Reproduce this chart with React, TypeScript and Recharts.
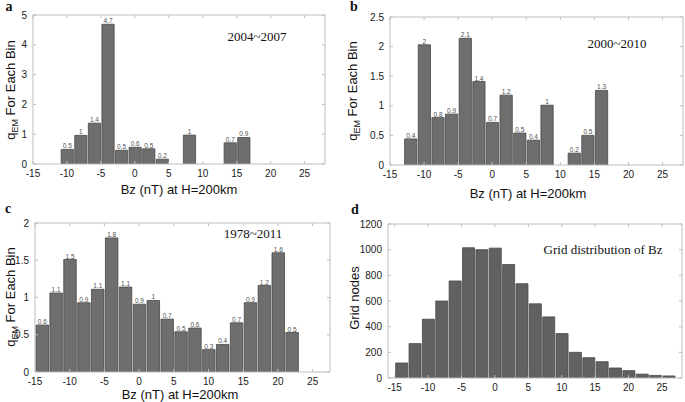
import React from 'react';
import { BarChart, Bar, XAxis, YAxis, LabelList } from 'recharts';

// bin centres (bins are 2 nT wide) and heights
const binsA = [-10, -8, -6, -4, -2, 0, 2, 4, 8, 14, 16];
const qemA = [0.49, 0.96, 1.37, 4.69, 0.46, 0.56, 0.51, 0.16, 0.97, 0.71, 0.89];

const binsB = [-12, -10, -8, -6, -4, -2, 0, 2, 4, 6, 8, 12, 14, 16];
const qemB = [0.44, 2.03, 0.8, 0.86, 2.14, 1.41, 0.72, 1.18, 0.54, 0.42, 1.01, 0.2, 0.5, 1.26];

const binsC = [-14, -12, -10, -8, -6, -4, -2, 0, 2, 4, 6, 8, 10, 12, 14, 16, 18, 20, 22];
const qemC = [0.63, 1.06, 1.51, 0.93, 1.11, 1.8, 1.14, 0.91, 0.96, 0.71, 0.54, 0.59, 0.3, 0.37, 0.66, 0.93, 1.16, 1.6, 0.53];

const binsD = [-14, -12, -10, -8, -6, -4, -2, 0, 2, 4, 6, 8, 10, 12, 14, 16, 18, 20, 22, 24, 26];
const gridNodes = [117, 268, 458, 600, 756, 1015, 1000, 1012, 884, 735, 578, 476, 346, 200, 158, 127, 78, 57, 30, 20, 16];

const xTicks = [-15, -10, -5, 0, 5, 10, 15, 20, 25];
const yTicksA = [0, 1, 2, 3, 4, 5];
const yTicksB = [0, 0.5, 1, 1.5, 2, 2.5];
const yTicksC = [0, 0.5, 1, 1.5, 2];
const yTicksD = [0, 200, 400, 600, 800, 1000, 1200];

const SANS = '"Liberation Sans", Arial, sans-serif';
const SERIF = '"Liberation Serif", "Times New Roman", serif';
const FRAME = '#bdbdbd';

const fmt = (v: any) => String(Number(Number(v).toFixed(1)));

type PanelProps = {
  x: number;
  y: number;
  w: number;
  h: number;
  margin: { top: number; right: number; bottom: number; left: number };
  bins: number[];
  values: number[];
  xDomain: [number, number];
  yTicks: number[];
  fill: string;
  showLabels: boolean;
};

function Panel({ x, y, w, h, margin, bins, values, xDomain, yTicks, fill, showLabels }: PanelProps) {
  const data = bins.map((b, i) => ({ x: b, v: values[i] }));
  // axes take 1px each side
  const plotW = w - margin.left - margin.right - 2;
  const barSize = (2 * plotW) / (xDomain[1] - xDomain[0]);
  const yDomain: [number, number] = [yTicks[0], yTicks[yTicks.length - 1]];
  const tickStyle = { fill: '#1a1a1a', fontSize: 10, fontFamily: SANS };
  return (
    <div style={{ position: 'absolute', left: x, top: y }}>
      <BarChart width={w} height={h} data={data} margin={margin} barGap={0} barCategoryGap={0}>
        <XAxis
          type="number"
          dataKey="x"
          domain={xDomain}
          ticks={xTicks}
          interval={0}
          allowDataOverflow
          height={1}
          tickSize={-3}
          tickMargin={9}
          stroke={FRAME}
          tick={tickStyle}
        />
        <XAxis
          xAxisId="top"
          orientation="top"
          type="number"
          dataKey="x"
          domain={xDomain}
          ticks={xTicks}
          interval={0}
          allowDataOverflow
          height={1}
          tickSize={-3}
          stroke={FRAME}
          tickFormatter={() => ''}
        />
        <YAxis
          type="number"
          domain={yDomain}
          ticks={yTicks}
          interval={0}
          allowDataOverflow
          width={1}
          tickSize={-3}
          tickMargin={9}
          stroke={FRAME}
          tick={tickStyle}
        />
        <YAxis
          yAxisId="right"
          orientation="right"
          type="number"
          domain={yDomain}
          ticks={yTicks}
          interval={0}
          allowDataOverflow
          width={1}
          tickSize={-3}
          stroke={FRAME}
          tickFormatter={() => ''}
        />
        <Bar dataKey="v" fill={fill} stroke="#474747" strokeWidth={0.8} barSize={barSize} isAnimationActive={false}>
          {showLabels && (
            <LabelList dataKey="v" position="top" offset={1} formatter={fmt} fill="#505050" fontSize={6.5} fontFamily={SANS} />
          )}
        </Bar>
      </BarChart>
    </div>
  );
}

function Txt({ x, y, size, family, bold, rotate, children }: any) {
  return (
    <div
      style={{
        position: 'absolute',
        left: x,
        top: y,
        transform: `translate(-50%, -50%)${rotate ? ' rotate(-90deg)' : ''}`,
        whiteSpace: 'nowrap',
        fontSize: size,
        fontFamily: family,
        fontWeight: bold ? 'bold' : 'normal',
        color: '#111',
        lineHeight: 1,
      }}
    >
      {children}
    </div>
  );
}

const qLabel = (
  <span>
    q<sub style={{ fontSize: 9, verticalAlign: -3 }}>EM</sub> For Each Bin
  </span>
);

export default function App() {
  return (
    <div style={{ position: 'absolute', left: 0, top: 0, width: 685, height: 402, background: '#fff' }}>
      <Panel x={0} y={0} w={342} h={200} margin={{ top: 14, right: 16, bottom: 35, left: 32 }}
        bins={binsA} values={qemA} xDomain={[-15, 28]} yTicks={yTicksA} fill="#6e6e6e" showLabels />
      <Panel x={342} y={0} w={343} h={200} margin={{ top: 16, right: 1, bottom: 34, left: 47 }}
        bins={binsB} values={qemB} xDomain={[-15, 28]} yTicks={yTicksB} fill="#6e6e6e" showLabels />
      <Panel x={0} y={200} w={342} h={202} margin={{ top: 22, right: 11, bottom: 29, left: 34 }}
        bins={binsC} values={qemC} xDomain={[-15, 27.5]} yTicks={yTicksC} fill="#6e6e6e" showLabels />
      <Panel x={342} y={200} w={343} h={202} margin={{ top: 23, right: 2, bottom: 23, left: 45 }}
        bins={binsD} values={gridNodes} xDomain={[-16, 28]} yTicks={yTicksD} fill="#616161" showLabels={false} />

      <Txt x={9} y={7} size={14} family={SERIF} bold>a</Txt>
      <Txt x={354} y={7} size={14} family={SERIF} bold>b</Txt>
      <Txt x={8} y={209} size={14} family={SERIF} bold>c</Txt>
      <Txt x={355} y={210} size={14} family={SERIF} bold>d</Txt>

      <Txt x={257} y={36} size={13} family={SERIF}>2004~2007</Txt>
      <Txt x={617} y={43} size={13} family={SERIF}>2000~2010</Txt>
      <Txt x={253} y={233} size={13} family={SERIF}>1978~2011</Txt>
      <Txt x={603} y={249} size={13} family={SERIF}>Grid distribution of Bz</Txt>

      <Txt x={12} y={90} size={13} family={SANS} rotate>{qLabel}</Txt>
      <Txt x={354} y={91} size={13} family={SANS} rotate>{qLabel}</Txt>
      <Txt x={12} y={297} size={13} family={SANS} rotate>{qLabel}</Txt>
      <Txt x={354} y={298} size={13} family={SANS} rotate>Grid nodes</Txt>

      <Txt x={179} y={189} size={13} family={SANS}>Bz (nT) at H=200km</Txt>
      <Txt x={528} y={193} size={13} family={SANS}>Bz (nT) at H=200km</Txt>
      <Txt x={180} y={394} size={13} family={SANS}>Bz (nT) at H=200km</Txt>
    </div>
  );
}
